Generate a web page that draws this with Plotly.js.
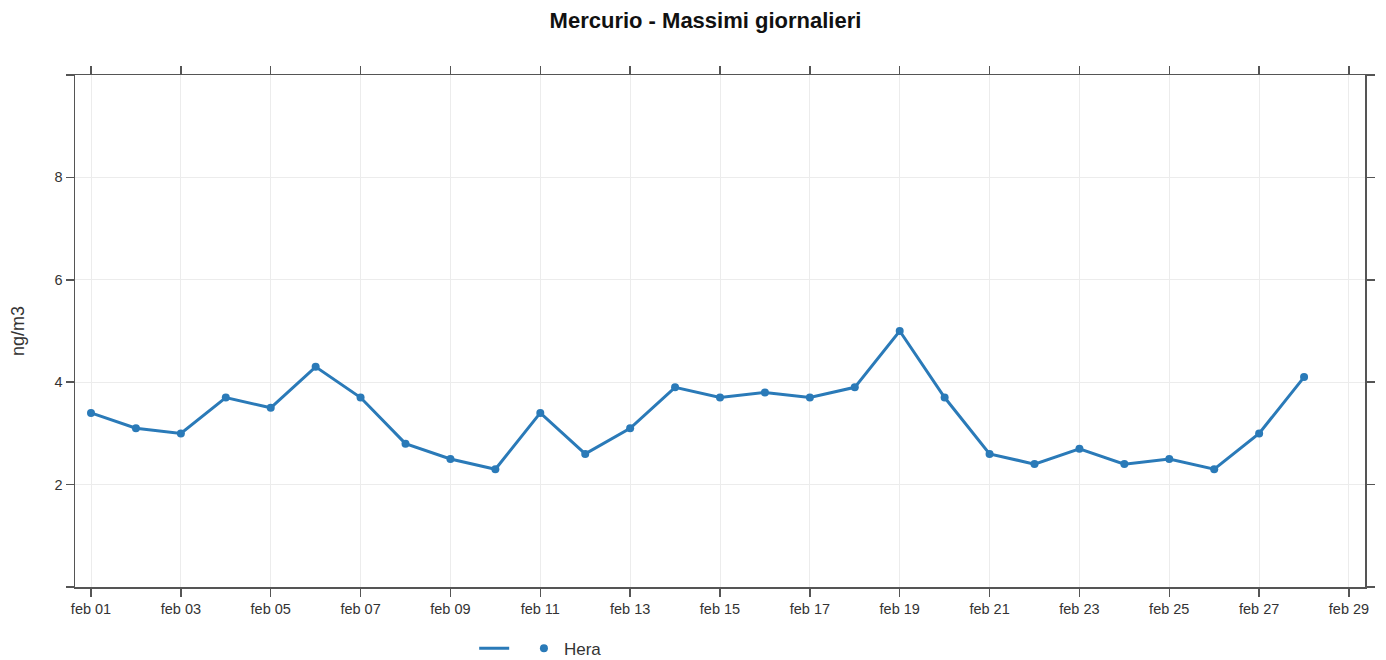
<!DOCTYPE html>
<html>
<head>
<meta charset="utf-8">
<script src="https://cdn.plot.ly/plotly-3.0.1.min.js"></script>
<style>html,body{margin:0;padding:0;background:#fff;}#chart{width:1386px;height:660px;}</style>
</head>
<body>
<div id="chart"></div>
<script>
const dates = ["2024-02-01","2024-02-02","2024-02-03","2024-02-04","2024-02-05","2024-02-06","2024-02-07",
  "2024-02-08","2024-02-09","2024-02-10","2024-02-11","2024-02-12","2024-02-13","2024-02-14",
  "2024-02-15","2024-02-16","2024-02-17","2024-02-18","2024-02-19","2024-02-20","2024-02-21",
  "2024-02-22","2024-02-23","2024-02-24","2024-02-25","2024-02-26","2024-02-27","2024-02-28"];
const hera = [3.4,3.1,3.0,3.7,3.5,4.3,3.7,2.8,2.5,2.3,3.4,2.6,3.1,3.9,3.7,3.8,3.7,3.9,5.0,3.7,2.6,2.4,2.7,2.4,2.5,2.3,3.0,4.1];
const xTickVals = ["2024-02-01","2024-02-03","2024-02-05","2024-02-07","2024-02-09","2024-02-11","2024-02-13",
  "2024-02-15","2024-02-17","2024-02-19","2024-02-21","2024-02-23","2024-02-25","2024-02-27","2024-02-29"];
const xTickText = ["feb 01","feb 03","feb 05","feb 07","feb 09","feb 11","feb 13","feb 15","feb 17","feb 19","feb 21","feb 23","feb 25","feb 27","feb 29"];
const yTickVals = [0,2,4,6,8,10];
const yTickText = ["","2","4","6","8",""];
const seriesName = "Hera";
const color = "#2a7ab8";
const FONT = "Liberation Sans, Arial, sans-serif";

const traces = [
  {x: dates, y: hera, type: "scatter", mode: "lines", name: " ", line: {color: color, width: 3}, showlegend: true, hoverinfo: "skip"},
  {x: dates, y: hera, type: "scatter", mode: "markers", name: seriesName, marker: {color: color, size: 8}, showlegend: true}
];

const axisCommon = {
  showline: true, linecolor: "#555", linewidth: 1.5, mirror: "allticks",
  ticks: "outside", ticklen: 8, tickwidth: 1.5, tickcolor: "#555",
  showgrid: true, gridcolor: "#ececec", gridwidth: 1, zeroline: false,
  automargin: false,
  tickfont: {family: FONT, size: 14.5, color: "#333"}
};

const layout = {
  width: 1386, height: 660,
  margin: {l: 75, r: 21, t: 75, b: 73},
  paper_bgcolor: "#fff", plot_bgcolor: "#fff",
  font: {family: FONT, color: "#222"},
  title: {text: "<b>Mercurio - Massimi giornalieri</b>", x: 0.509, xanchor: "center", y: 0.97, yanchor: "middle",
    font: {family: FONT, size: 22, color: "#111"}},
  xaxis: Object.assign({}, axisCommon, {
    type: "date",
    range: ["2024-01-31 15:27", "2024-02-29 08:33"],
    tickmode: "array", tickvals: xTickVals, ticktext: xTickText
  }),
  yaxis: Object.assign({}, axisCommon, {
    range: [0, 10], tickmode: "array", tickvals: yTickVals, ticktext: yTickText,
    title: {text: "ng/m3", font: {family: FONT, size: 18, color: "#333"}, standoff: 25}
  }),
  showlegend: true,
  legend: {orientation: "h", xref: "paper", x: 0.361, xanchor: "center", yref: "container", y: 0.017, yanchor: "middle",
    font: {family: FONT, size: 17, color: "#333"},
    itemwidth: 30, tracegroupgap: 0, bgcolor: "rgba(0,0,0,0)"}
};

Plotly.newPlot("chart", traces, layout, {displayModeBar: false, staticPlot: true});
</script>
</body>
</html>
